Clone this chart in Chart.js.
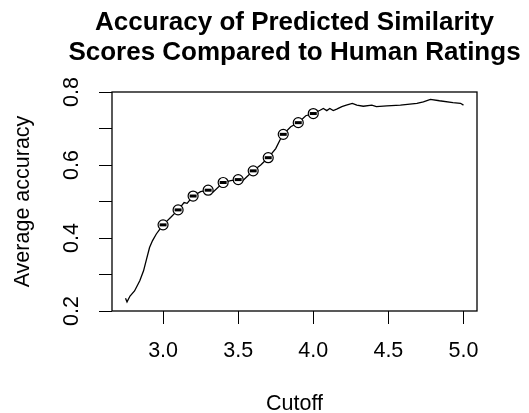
<!DOCTYPE html>
<html>
<head>
<meta charset="utf-8">
<script src="https://cdn.jsdelivr.net/npm/chart.js@4/dist/chart.umd.min.js"></script>
<style>
  body { margin: 0; background: #fff; }
  canvas { display: block; }
</style>
</head>
<body>
<canvas id="accuracy-chart" width="529" height="413"></canvas>
<script>
// accuracy curve over the cutoff range
var cutoff = [2.75, 2.76, 2.78, 2.81, 2.845, 2.87, 2.89, 2.91, 2.93, 2.955, 2.98,
  3.00, 3.05, 3.10, 3.14, 3.16, 3.20, 3.25, 3.30, 3.33, 3.40, 3.45, 3.50, 3.53,
  3.60, 3.65, 3.70, 3.75, 3.78, 3.80, 3.85, 3.90, 3.95, 4.00,
  4.045, 4.067, 4.09, 4.11, 4.133, 4.156, 4.19, 4.22, 4.26, 4.29, 4.333, 4.39,
  4.42, 4.49, 4.58, 4.69, 4.733, 4.78, 4.84, 4.93, 4.98, 5.00];
var accuracy = [0.235, 0.225, 0.241, 0.255, 0.283, 0.310, 0.342, 0.374, 0.393, 0.411, 0.425,
  0.436, 0.456, 0.477, 0.497, 0.495, 0.515, 0.527, 0.531, 0.525, 0.552, 0.557, 0.560, 0.557,
  0.584, 0.600, 0.620, 0.645, 0.670, 0.684, 0.705, 0.716, 0.735, 0.741,
  0.750, 0.755, 0.749, 0.755, 0.749, 0.753, 0.760, 0.764, 0.769, 0.764, 0.761, 0.764,
  0.760, 0.762, 0.764, 0.769, 0.773, 0.780, 0.776, 0.771, 0.769, 0.764];

// highlighted cutoffs
var markCutoff = [3.0, 3.1, 3.2, 3.3, 3.4, 3.5, 3.6, 3.7, 3.8, 3.9, 4.0];
var markAccuracy = [0.436, 0.477, 0.515, 0.531, 0.552, 0.560, 0.584, 0.620, 0.684, 0.716, 0.741];

var xTicks = [3.0, 3.5, 4.0, 4.5, 5.0];
var yTicks = [0.2, 0.3, 0.4, 0.5, 0.6, 0.7, 0.8];
var yTickLabels = ['0.2', '', '0.4', '', '0.6', '', '0.8'];

var titleLines = ['Accuracy of Predicted Similarity', 'Scores Compared to Human Ratings'];

var family = '"Liberation Sans", Arial, Helvetica, sans-serif';
var axisFont = { family: family, size: 21.5 };

function toPoints(xs, ys) {
  return xs.map(function (x, i) { return { x: x, y: ys[i] }; });
}

// R-style box around the plot region
var boxPlugin = {
  id: 'plotBox',
  afterDraw: function (chart) {
    var a = chart.chartArea, ctx = chart.ctx;
    ctx.save();
    ctx.strokeStyle = '#000';
    ctx.lineWidth = 1.3;
    ctx.strokeRect(a.left, a.top, a.right - a.left, a.bottom - a.top);
    ctx.restore();
  }
};

// two-line bold title centred over the plot region
var titlePlugin = {
  id: 'plotTitle',
  afterDraw: function (chart) {
    var a = chart.chartArea, ctx = chart.ctx;
    var cx = (a.left + a.right) / 2;
    ctx.save();
    ctx.fillStyle = '#000';
    ctx.font = 'bold 26px ' + family;
    ctx.textAlign = 'center';
    ctx.textBaseline = 'middle';
    titleLines.forEach(function (line, i) {
      ctx.fillText(line, cx, 23 + i * 30);
    });
    ctx.restore();
  }
};

var ctx = document.getElementById('accuracy-chart').getContext('2d');
var chart = new Chart(ctx, {
  type: 'scatter',
  data: {
    datasets: [
      {
        type: 'line',
        order: 3,
        data: toPoints(cutoff, accuracy),
        borderColor: '#000',
        borderWidth: 1.3,
        pointRadius: 0,
        tension: 0,
        fill: false
      },
      {
        order: 2,
        data: toPoints(markCutoff, markAccuracy),
        pointStyle: 'circle',
        pointRadius: 5,
        pointBorderWidth: 1.2,
        pointBorderColor: '#000',
        pointBackgroundColor: '#fff'
      },
      {
        order: 1,
        data: toPoints(markCutoff, markAccuracy),
        pointStyle: 'line',
        pointRadius: 3.5,
        pointBorderWidth: 3,
        pointBorderColor: '#000'
      }
    ]
  },
  options: {
    responsive: false,
    animation: false,
    devicePixelRatio: 1,
    layout: { padding: { top: 92, right: 52, left: 0, bottom: 0 } },
    plugins: {
      legend: { display: false },
      tooltip: { enabled: false },
      title: { display: false }
    },
    scales: {
      x: {
        type: 'linear',
        min: 2.66,
        max: 5.09,
        afterBuildTicks: function (s) { s.ticks = xTicks.map(function (v) { return { value: v }; }); },
        afterFit: function (s) { s.height = 102; },
        grid: { drawOnChartArea: false, drawTicks: true, tickLength: 13, color: '#000', tickColor: '#000' },
        border: { display: false },
        ticks: {
          autoSkip: false,
          maxRotation: 0,
          padding: 14,
          color: '#000',
          font: axisFont,
          callback: function (v) { return v.toFixed(1); }
        },
        title: {
          display: true,
          text: 'Cutoff',
          color: '#000',
          font: { family: family, size: 21.5, lineHeight: 0.8 },
          padding: 0
        }
      },
      y: {
        min: 0.2,
        max: 0.8,
        afterBuildTicks: function (s) { s.ticks = yTicks.map(function (v) { return { value: v }; }); },
        afterFit: function (s) { s.width = 112; },
        grid: { drawOnChartArea: false, drawTicks: true, tickLength: 13, color: '#000', tickColor: '#000' },
        border: { display: false },
        ticks: {
          autoSkip: false,
          minRotation: 90,
          maxRotation: 90,
          crossAlign: 'center',
          padding: 11.6,
          color: '#000',
          font: axisFont,
          callback: function (v, i) { return yTickLabels[i]; }
        },
        title: {
          display: true,
          text: 'Average accuracy',
          color: '#000',
          font: axisFont,
          padding: { top: 10, bottom: 0 }
        }
      }
    }
  },
  plugins: [boxPlugin, titlePlugin]
});
</script>
</body>
</html>
